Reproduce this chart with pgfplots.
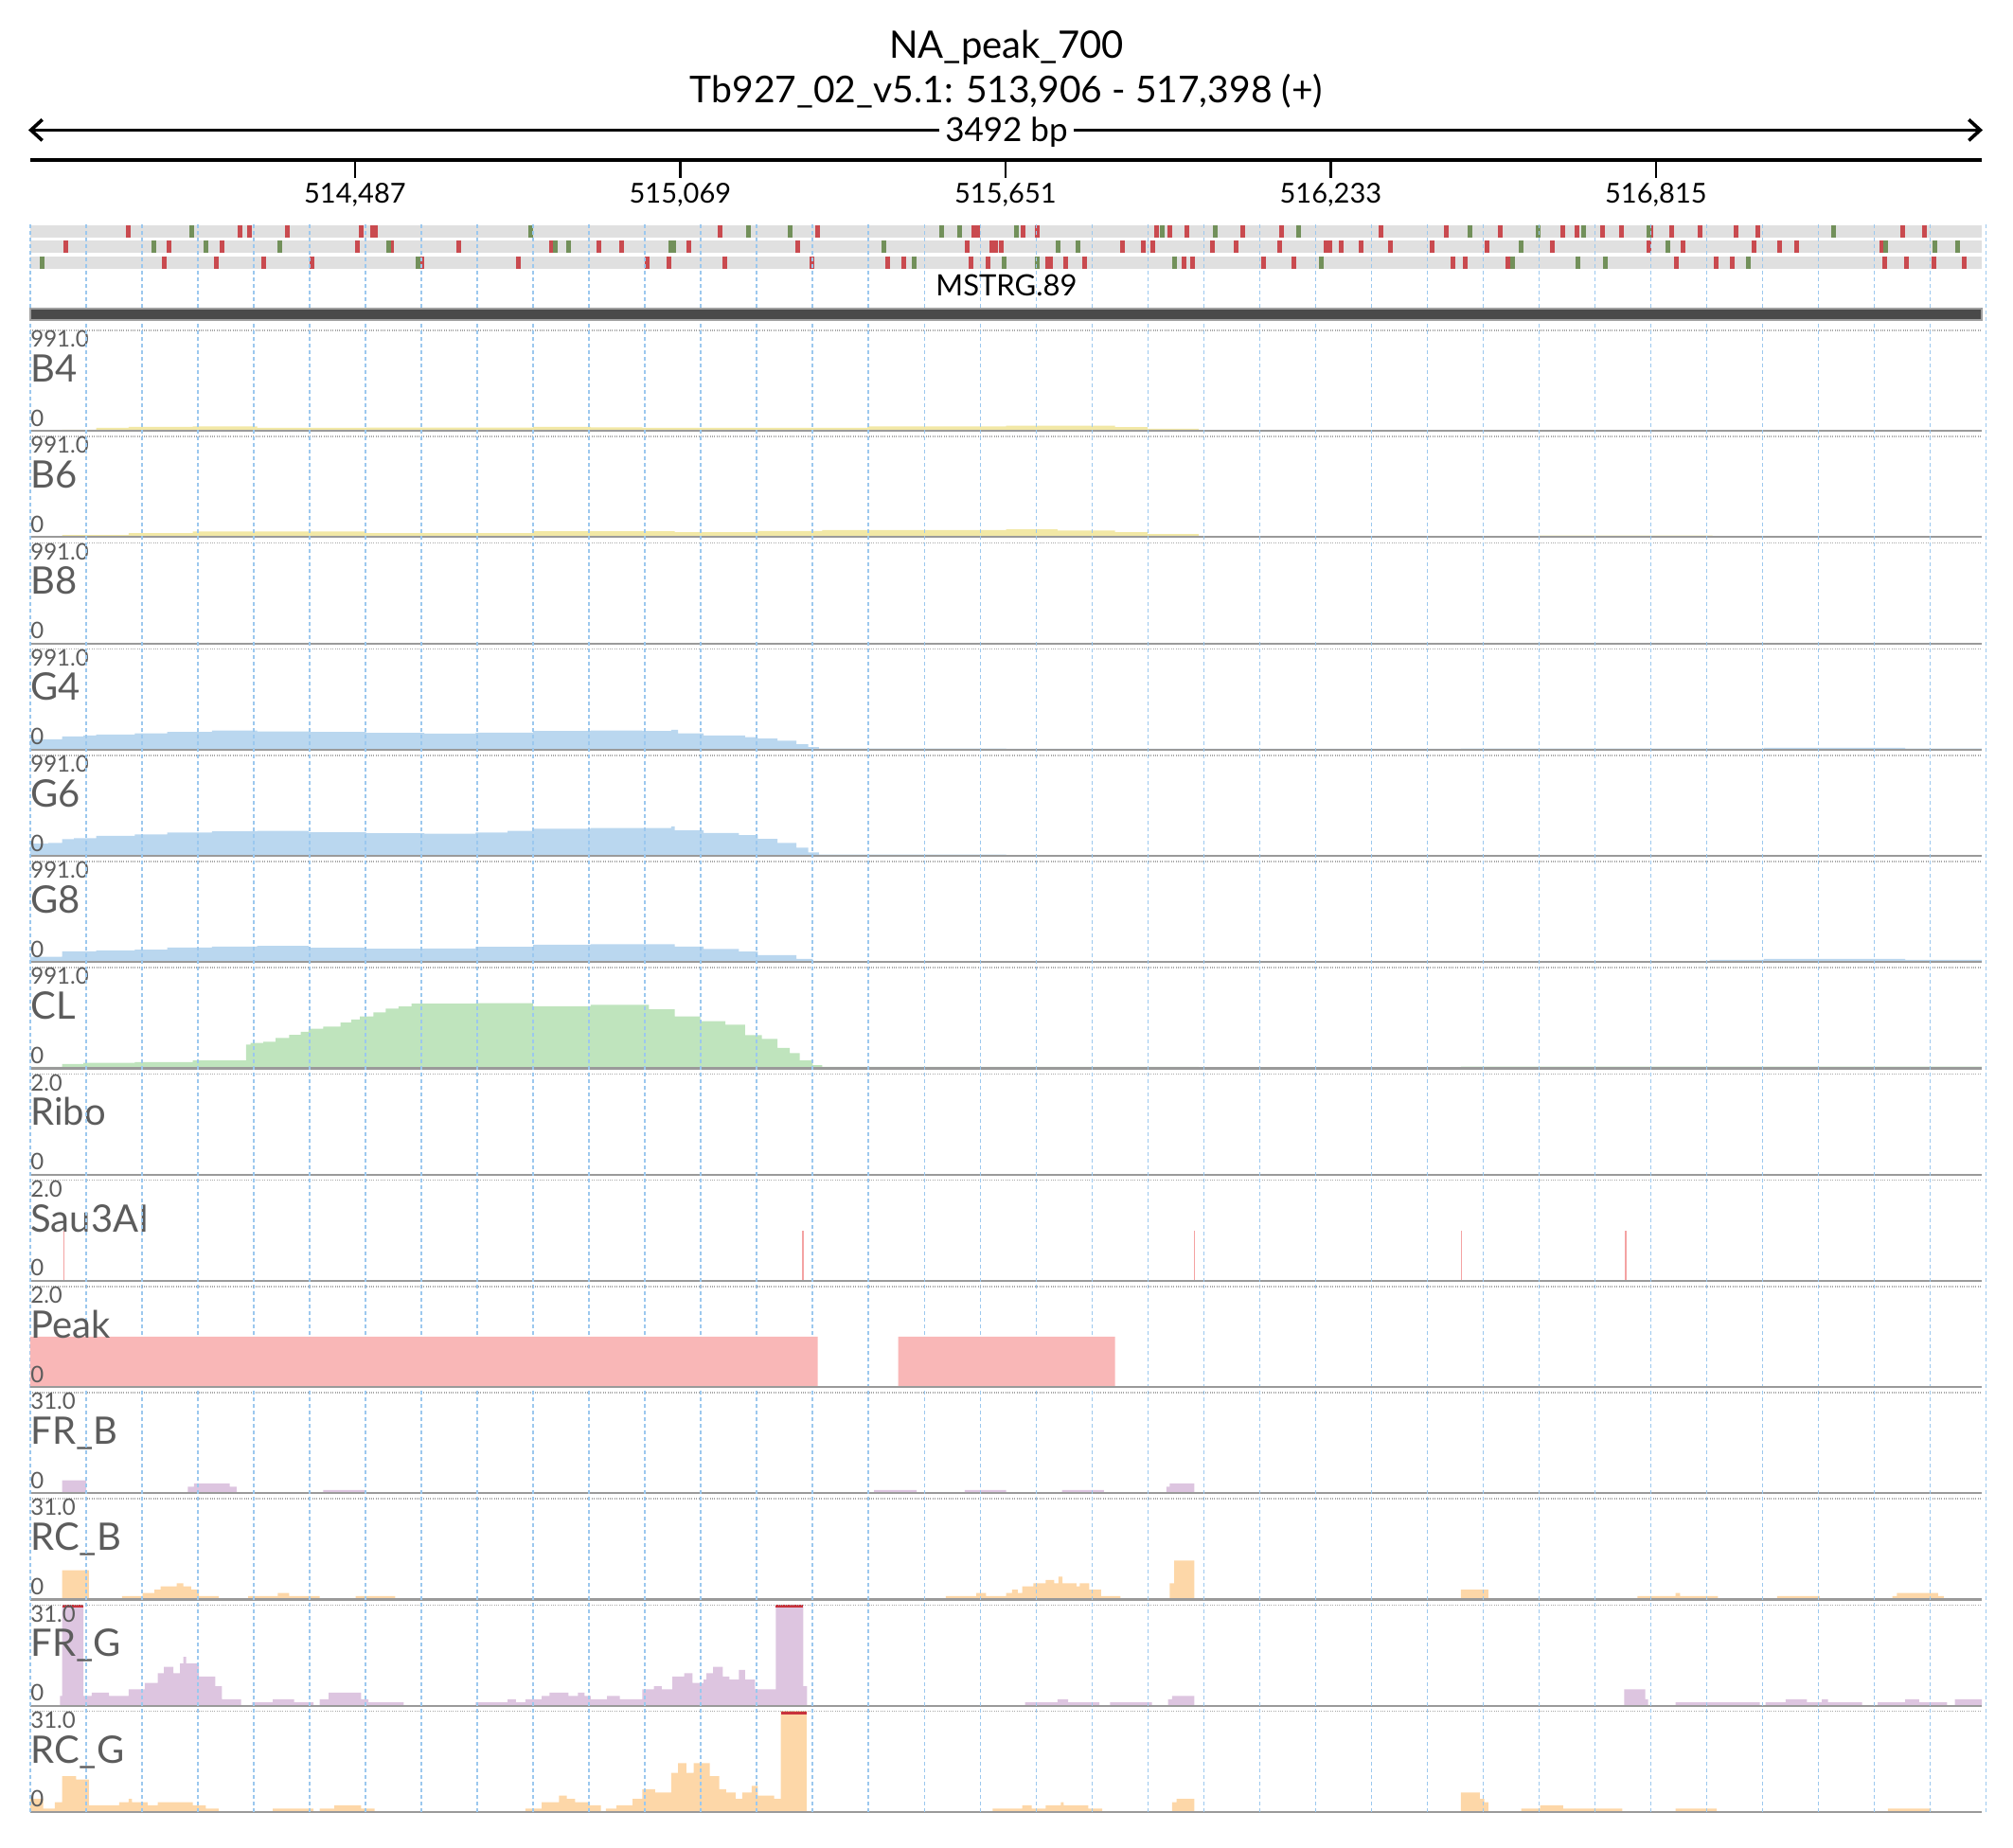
\documentclass[border=0pt]{standalone}
\usepackage{pgfplots}
\pgfplotsset{compat=1.18}
\usepackage{fontspec}
\setmainfont{Lato}
\usetikzlibrary{arrows.meta}

\definecolor{bandgray}{HTML}{E0E0E0}
\definecolor{codred}{HTML}{C94A4F}
\definecolor{codgreen}{HTML}{72905A}
\definecolor{gridblue}{HTML}{9CC8EE}
\definecolor{labgray}{HTML}{5C5C5C}
\definecolor{basegray}{HTML}{9A9A9A}
\definecolor{topgray}{HTML}{A8A8A8}
\definecolor{yel}{HTML}{F2E8A6}
\definecolor{blu}{HTML}{BAD7EF}
\definecolor{grn}{HTML}{BFE4BD}
\definecolor{pk}{HTML}{F9B7B7}
\definecolor{sau}{HTML}{F4A3A3}
\definecolor{pur}{HTML}{DDC5E0}
\definecolor{org}{HTML}{FDD7A8}
\definecolor{genedark}{HTML}{4A4A4A}
\definecolor{clipred}{HTML}{C8323C}

\pgfplotsset{
  trk/.style={scale only axis, width=1030.5pt, height=53.1pt,
    xmin=513906, xmax=517398, ymin=0, axis lines=none, ticks=none,
    scaled x ticks=false, scaled y ticks=false,
    anchor=south west, clip mode=individual},
}
\newcommand{\deco}[2]{%
  \draw[basegray, line width=1.1pt] (rel axis cs:0,0) -- (rel axis cs:1,0);
  \draw[topgray, line width=0.8pt, dash pattern=on 0.5pt off 0.7pt] (rel axis cs:0,1) -- (rel axis cs:1,1);
  \node[anchor=base west, inner sep=0pt, text=labgray, font=\fontsize{12}{14}\selectfont] at ([yshift=-8.85pt]rel axis cs:0,1) {#2};
  \node[anchor=base west, inner sep=0pt, text=labgray, font=\fontsize{20}{24}\selectfont] at ([yshift=-27.2pt]rel axis cs:0,1) {#1};
  \node[anchor=base west, inner sep=0pt, text=labgray, font=\fontsize{12}{14}\selectfont] at ([yshift=2.5pt]rel axis cs:0,0) {0};
}

\begin{document}
\begin{tikzpicture}
\useasboundingbox (0pt,0pt) rectangle (1063pt,-976pt);

% ---- titles and ruler
\node[anchor=base, inner sep=0pt, font=\fontsize{20}{24}\selectfont] at (531.5pt,-31pt) {NA\_peak\_700};
\node[anchor=base, inner sep=0pt, font=\fontsize{19.5}{24}\selectfont] at (531.5pt,-54.5pt) {Tb927\_02\_v5.1: 513,906 - 517,398 (+)};
\draw[line width=1.8pt, {Straight Barb[length=6pt,width=11pt]}-{Straight Barb[length=6pt,width=11pt]}] (15pt,-68.7pt) -- (1047pt,-68.7pt);
\node[anchor=base, fill=white, inner xsep=3pt, inner ysep=2pt, font=\fontsize{17.5}{20}\selectfont] at (531.5pt,-75pt) {3492 bp};
\draw[line width=1.7pt] (16pt,-84.6pt) -- (1046.5pt,-84.6pt);
\foreach \xx in {187.46,359.2,530.96,702.7,874.45}{\draw[line width=1.1pt] (\xx pt,-84.6pt) -- (\xx pt,-94.2pt);}
\node[anchor=base, inner sep=0pt, font=\fontsize{14.5}{17}\selectfont] at (187.46pt,-107.5pt) {514,487};
\node[anchor=base, inner sep=0pt, font=\fontsize{14.5}{17}\selectfont] at (359.2pt,-107.5pt) {515,069};
\node[anchor=base, inner sep=0pt, font=\fontsize{14.5}{17}\selectfont] at (530.96pt,-107.5pt) {515,651};
\node[anchor=base, inner sep=0pt, font=\fontsize{14.5}{17}\selectfont] at (702.7pt,-107.5pt) {516,233};
\node[anchor=base, inner sep=0pt, font=\fontsize{14.5}{17}\selectfont] at (874.45pt,-107.5pt) {516,815};
\node[anchor=base, inner sep=0pt, font=\fontsize{15.5}{18}\selectfont] at (531.5pt,-156.5pt) {MSTRG.89};

% ---- codon frames
\begin{axis}[scale only axis, width=1030.5pt, height=24.45pt, at={(16pt,-142.625pt)}, anchor=south west,
  xmin=513906, xmax=517398, ymin=0.5, ymax=3.5, y dir=reverse, axis lines=none, ticks=none,
  scaled x ticks=false, clip=false]
\fill[bandgray] (axis cs:513906,0.6) rectangle (axis cs:517398,1.4);
\fill[bandgray] (axis cs:513906,1.6) rectangle (axis cs:517398,2.4);
\fill[bandgray] (axis cs:513906,2.6) rectangle (axis cs:517398,3.4);
\addplot[only marks, mark=|, mark size=3.25pt, color=codred, mark options={line width=2.5pt}] coordinates {
(514082,1)(514282,1)(514299,1)(514366,1)(514498,1)(514518,1)(514524,1)(515140,1)(515314,1)(515595,1)(515602,1)
(515683,1)(515708,1)(515921,1)(515945,1)(515975,1)(516075,1)(516145,1)(516323,1)(516440,1)(516536,1)(516648,1)
(516674,1)(516719,1)(516754,1)(516805,1)(516843,1)(516894,1)(516959,1)(516998,1)(517257,1)(517296,1)
(513970,2)(514154,2)(514249,2)(514492,2)(514552,2)(514673,2)(514838,2)(514923,2)(514964,2)(515085,2)(515280,2)
(515583,2)(515627,2)(515634,2)(515643,2)(515861,2)(515898,2)(515914,2)(516022,2)(516063,2)(516141,2)(516225,2)
(516231,2)(516252,2)(516288,2)(516340,2)(516415,2)(516513,2)(516629,2)(516802,2)(516863,2)(516990,2)(517036,2)
(517066,2)(517219,2)
(514146,3)(514239,3)(514323,3)(514410,3)(514607,3)(514779,3)(515010,3)(515049,3)(515148,3)(515305,3)(515440,3)
(515469,3)(515590,3)(515620,3)(515727,3)(515732,3)(515759,3)(515793,3)(515971,3)(515986,3)(516113,3)(516167,3)
(516451,3)(516474,3)(516550,3)(516851,3)(516922,3)(516952,3)(517225,3)(517264,3)(517313,3)(517367,3)};
\addplot[only marks, mark=|, mark size=3.25pt, color=codgreen, mark options={line width=2.5pt}] coordinates {
(514195,1)(514801,1)(515191,1)(515266,1)(515536,1)(515569,1)(515671,1)(515931,1)(516026,1)(516176,1)(516482,1)
(516605,1)(516686,1)(516802,1)(517132,1)
(514127,2)(514220,2)(514352,2)(514548,2)(514845,2)(514869,2)(515052,2)(515057,2)(515433,2)(515745,2)(515781,2)
(516573,2)(516836,2)(517226,2)(517314,2)(517354,2)
(513927,3)(514600,3)(515487,3)(515649,3)(515708,3)(515954,3)(516217,3)(516559,3)(516675,3)(516724,3)(516980,3)};
\end{axis}

% ---- B4
\begin{axis}[trk, at={(16pt,-227.6pt)}, ymax=991]
\addplot[const plot, fill=yel, draw=none] coordinates {(513906,0)(513940,8)(513963,12)(514024,30)(514082,40)(514197,46)(514312,31)(514507,33)(514806,40)(514909,35)(515001,31)(515404,46)(515652,53)(515847,37)(515905,22)(515997,5)(517000,8)(517261,5)(517398,5)} \closedcycle;
\deco{B4}{991.0}
\end{axis}
% ---- B6
\begin{axis}[trk, at={(16pt,-283.7pt)}, ymax=991]
\addplot[const plot, fill=yel, draw=none] coordinates {(513906,0)(513940,10)(513963,22)(514082,40)(514197,56)(514507,40)(514806,59)(515059,50)(515208,62)(515323,71)(515652,78)(515744,65)(515847,50)(515905,31)(515997,9)(516606,16)(516916,9)(517398,9)} \closedcycle;
\deco{B6}{991.0}
\end{axis}
% ---- B8
\begin{axis}[trk, at={(16pt,-339.8pt)}, ymax=991]
\addplot[const plot, fill=yel, draw=none] coordinates {(513906,0)(513963,5)(515001,3)(517398,3)} \closedcycle;
\deco{B8}{991.0}
\end{axis}
% ---- G4
\begin{axis}[trk, at={(16pt,-395.9pt)}, ymax=991]
\addplot[const plot, fill=blu, draw=none] coordinates {(513906,102)(513963,130)(514001,140)(514024,149)(514093,161)(514151,174)(514231,189)(514312,180)(514404,174)(514507,164)(514611,158)(514703,167)(514806,183)(514909,189)(515001,183)(515053,195)(515065,161)(515111,140)(515185,124)(515208,109)(515243,87)(515277,53)(515298,25)(515317,10)(515652,8)(516466,10)(516916,12)(517008,18)(517261,12)(517398,12)} \closedcycle;
\deco{G4}{991.0}
\end{axis}
% ---- G6
\begin{axis}[trk, at={(16pt,-452.0pt)}, ymax=991]
\addplot[const plot, fill=blu, draw=none] coordinates {(513906,121)(513938,128)(513963,164)(513984,174)(514024,198)(514093,211)(514151,229)(514231,242)(514312,245)(514404,233)(514507,223)(514611,217)(514703,229)(514760,245)(514806,267)(514909,273)(515001,273)(515053,290)(515059,251)(515111,226)(515174,205)(515208,167)(515243,127)(515277,81)(515298,34)(515317,12)(515652,6)(517398,6)} \closedcycle;
\deco{G6}{991.0}
\end{axis}
% ---- G8
\begin{axis}[trk, at={(16pt,-508.1pt)}, ymax=991]
\addplot[const plot, fill=blu, draw=none] coordinates {(513906,53)(513963,106)(514024,114)(514093,122)(514151,143)(514231,153)(514312,159)(514404,140)(514507,131)(514611,134)(514703,150)(514806,171)(514909,175)(515059,153)(515111,128)(515174,103)(515208,68)(515277,31)(515306,6)(516755,6)(516911,22)(517008,31)(517261,22)(517398,22)} \closedcycle;
\deco{G8}{991.0}
\end{axis}
% ---- CL
\begin{axis}[trk, at={(16pt,-564.2pt)}, ymax=991]
\addplot[const plot, fill=grn, draw=none] coordinates {(513906,15)(513963,43)(514001,53)(514093,62)(514197,78)(514292,233)(514300,250)(514323,262)(514345,300)(514369,330)(514390,360)(514404,390)(514430,410)(514461,450)(514480,480)(514496,512)(514520,550)(514542,589)(514565,610)(514588,636)(514703,642)(514806,611)(514909,626)(515013,580)(515059,512)(515105,465)(515150,430)(515185,326)(515215,290)(515243,202)(515265,150)(515283,78)(515306,31)(515323,15)(515652,15)(515997,6)(516466,16)(517261,16)(517398,6)} \closedcycle;
\deco{CL}{991.0}
\end{axis}
% ---- Ribo
\begin{axis}[trk, at={(16pt,-620.3pt)}, ymax=2]
\addplot[draw=none] coordinates {(513906,0)(517398,0)};
\deco{Ribo}{2.0}
\end{axis}
% ---- Sau3AI
\begin{axis}[trk, at={(16pt,-676.4pt)}, ymax=2]
\addplot[ycomb, no markers, color=sau, line width=0.9pt] coordinates {(513966,1)(515289,1)(515989,1)(516467,1)(516761,1)};
\deco{Sau3AI}{2.0}
\end{axis}
% ---- FR_B
\begin{axis}[trk, at={(16pt,-788.6pt)}, ymax=31]
\addplot[const plot, fill=pur, draw=none] coordinates {(513906,0)(513963,4)(514006,0)(514188,2)(514199,3)(514263,2)(514275,0)(514430,1)(514504,0)(515416,1)(515492,0)(515578,1)(515652,0)(515752,1)(515827,0)(515939,2)(515945,3)(515989,0)(517398,0)} \closedcycle;
\deco{FR\_B}{31.0}
\end{axis}
% ---- RC_B
\begin{axis}[trk, at={(16pt,-844.7pt)}, ymax=31]
\addplot[const plot, fill=org, draw=none] coordinates {(513906,0)(513963,9)(514011,0)(514070,1)(514107,2)(514128,3)(514139,4)(514168,5)(514180,4)(514194,3)(514208,1)(514243,0)(514296,1)(514349,2)(514369,1)(514424,0)(514488,1)(514559,0)(515544,1)(515599,2)(515616,1)(515652,2)(515663,3)(515673,2)(515681,4)(515701,5)(515723,6)(515738,5)(515746,7)(515753,5)(515778,4)(515784,5)(515801,3)(515822,1)(515857,0)(515945,5)(515953,12)(515989,0)(516466,3)(516515,0)(516782,1)(516850,2)(516858,1)(516926,0)(517032,1)(517108,0)(517238,1)(517246,2)(517320,1)(517330,0)(517398,0)} \closedcycle;
\deco{RC\_B}{31.0}
\end{axis}
% ---- FR_G
\begin{axis}[trk, at={(16pt,-900.8pt)}, ymax=31]
\addplot[const plot, fill=pur, draw=none] coordinates {(513906,0)(513959,3)(513963,45)(514001,3)(514016,4)(514047,3)(514082,5)(514111,7)(514134,10)(514145,12)(514162,10)(514174,13)(514180,15)(514185,13)(514208,9)(514237,6)(514249,2)(514283,0)(514303,1)(514340,2)(514378,1)(514413,0)(514424,2)(514440,4)(514498,2)(514511,1)(514574,0)(514703,1)(514760,2)(514775,1)(514792,2)(514821,3)(514835,4)(514869,3)(514886,4)(514898,3)(514909,2)(514938,3)(514961,2)(515001,5)(515022,6)(515036,5)(515055,9)(515076,10)(515091,7)(515111,8)(515116,10)(515128,12)(515145,9)(515157,8)(515174,11)(515185,8)(515203,5)(515240,45)(515289,6)(515296,0)(515686,1)(515744,2)(515763,1)(515819,0)(515838,1)(515913,0)(515942,2)(515949,3)(515989,0)(516758,5)(516796,2)(516801,0)(516850,1)(517001,0)(517011,1)(517047,2)(517085,1)(517112,2)(517123,1)(517184,0)(517212,1)(517261,2)(517286,1)(517336,0)(517350,2)(517398,2)} \closedcycle;
\addplot[draw=clipred, line width=1.5pt] coordinates {(513963,30.56)(514001,30.56)};
\addplot[draw=clipred, line width=1.5pt] coordinates {(515240,30.56)(515289,30.56)};
\deco{FR\_G}{31.0}
\end{axis}
% ---- RC_G
\begin{axis}[trk, at={(16pt,-956.9pt)}, ymax=31]
\addplot[const plot, fill=org, draw=none] coordinates {(513906,4)(513929,1)(513950,3)(513963,11)(513988,10)(514011,2)(514065,3)(514082,4)(514088,3)(514116,2)(514134,3)(514197,2)(514220,1)(514243,0)(514340,1)(514413,0)(514424,1)(514450,2)(514498,1)(514522,0)(514792,1)(514821,3)(514852,5)(514866,4)(514881,3)(514904,2)(514927,0)(514936,1)(514955,2)(514984,4)(515001,7)(515024,6)(515053,12)(515065,15)(515080,12)(515093,15)(515122,11)(515139,7)(515151,6)(515168,4)(515180,6)(515197,8)(515208,5)(515237,4)(515249,45)(515295,0)(515628,1)(515681,2)(515698,1)(515723,2)(515750,3)(515755,2)(515799,1)(515824,0)(515949,3)(515957,4)(515989,0)(516466,6)(516500,4)(516508,3)(516515,0)(516574,1)(516608,2)(516649,1)(516755,0)(516850,1)(516924,0)(517230,1)(517307,0)(517398,0)} \closedcycle;
\addplot[draw=clipred, line width=1.5pt] coordinates {(515249,30.56)(515295,30.56)};
\deco{RC\_G}{31.0}
\end{axis}

% ---- vertical grid (every 100 bp)
\begin{axis}[scale only axis, width=1032.86pt, height=839.5pt, at={(16pt,-957pt)}, anchor=south west,
  xmin=513906, xmax=517406, ymin=0, ymax=1, xtick={513906,514006,...,517406}, ytick=\empty,
  xticklabels={}, scaled x ticks=false, major tick length=0pt, axis line style={draw=none},
  xmajorgrids, major grid style={gridblue, line width=0.7pt, dash pattern=on 2pt off 1.5pt}]
\addplot[draw=none] coordinates {(513906,0)(517406,0)};
\end{axis}

% ---- Peak (drawn over the grid)
\begin{axis}[trk, at={(16pt,-732.5pt)}, ymax=2]
\addplot[const plot, fill=pk, draw=none] coordinates {(513906,1)(515315,0)(515459,1)(515847,0)(517398,0)} \closedcycle;
\deco{Peak}{2.0}
\end{axis}

% ---- gene model bar
\begin{axis}[scale only axis, width=1030.5pt, height=6pt, at={(16pt,-169pt)}, anchor=south west,
  xmin=513906, xmax=517398, ymin=0, ymax=1, axis lines=none, ticks=none, scaled x ticks=false, clip=false]
\addplot[fill=genedark, draw=gray!75, line width=0.7pt] coordinates {(513906,1)(517398,1)} \closedcycle;
\end{axis}
\end{tikzpicture}
\end{document}
